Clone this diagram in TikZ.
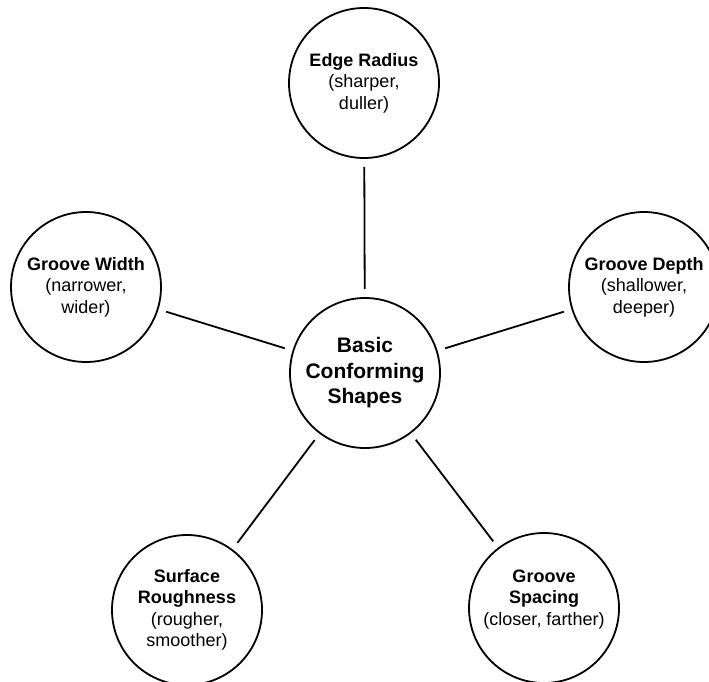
\documentclass[tikz,border=0pt]{standalone}
\usepackage{fontspec}
\setmainfont{Liberation Sans}

\begin{document}
\begin{tikzpicture}[x=1pt,y=-1pt,
    topic/.style={draw, circle, line width=1.8pt, minimum size=150pt, inner sep=0pt,
      align=center, font=\fontsize{18}{21.5}\selectfont},
    hub/.style={topic, font=\fontsize{21}{25.5}\selectfont\bfseries},
    link/.style={line width=1.8pt, shorten <=8pt, shorten >=8pt}]
    \useasboundingbox (0,0) rectangle (709,681);

    \node[hub] (shapes) at (365,373) {Basic\\Conforming\\Shapes};

    \node[topic] (radius) at (364,83) {\textbf{Edge Radius}\\(sharper,\\duller)};
    \node[topic] (width) at (86,287) {\textbf{Groove Width}\\(narrower,\\wider)};
    \node[topic] (depth) at (644,287) {\textbf{Groove Depth}\\(shallower,\\deeper)};
    \node[topic] (rough) at (187,610) {\textbf{Surface}\\\textbf{Roughness}\\(rougher,\\smoother)};
    \node[topic] (spacing) at (544,608) {\textbf{Groove}\\\textbf{Spacing}\\(closer, farther)\\\mbox{}};

    \draw[link] (radius) -- (shapes);
    \draw[link] (width) -- (shapes);
    \draw[link] (depth) -- (shapes);
    \draw[link] (rough) -- (shapes);
    \draw[link] (spacing) -- (shapes);
  \end{tikzpicture}
\end{document}
